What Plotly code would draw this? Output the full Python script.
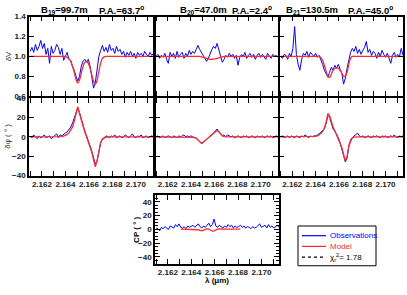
import plotly.graph_objects as go

# ---------------- data ----------------
WL = [2.16100, 2.16115, 2.16130, 2.16145, 2.16160, 2.16175, 2.16190, 2.16205, 2.16220, 2.16235,
      2.16250, 2.16265, 2.16280, 2.16295, 2.16310, 2.16325, 2.16340, 2.16355, 2.16370, 2.16385,
      2.16400, 2.16415, 2.16430, 2.16445, 2.16460, 2.16475, 2.16490, 2.16505, 2.16520, 2.16535,
      2.16550, 2.16565, 2.16580, 2.16595, 2.16610, 2.16625, 2.16640, 2.16655, 2.16670, 2.16685,
      2.16700, 2.16715, 2.16730, 2.16745, 2.16760, 2.16775, 2.16790, 2.16805, 2.16820, 2.16835,
      2.16850, 2.16865, 2.16880, 2.16895, 2.16910, 2.16925, 2.16940, 2.16955, 2.16970, 2.16985,
      2.17000, 2.17015, 2.17030, 2.17045, 2.17060, 2.17075, 2.17090, 2.17105, 2.17120, 2.17135,
      2.17150]

V1_OBS = [1.05, 1.09, 1.04, 1.12, 1.06, 1.10, 1.16, 1.08, 1.13, 1.02,
          1.08, 0.93, 1.10, 1.03, 1.06, 1.12, 1.09, 1.02, 1.08, 0.96,
          1.00, 1.04, 0.97, 0.96, 0.90, 0.86, 0.80, 0.75, 0.80, 0.90,
          0.95, 0.97, 0.94, 0.97, 0.90, 0.78, 0.68, 0.74, 0.88, 1.00,
          1.06, 1.11, 1.05, 1.09, 1.04, 1.12, 1.06, 1.08, 1.03, 1.10,
          1.05, 1.07, 1.02, 1.05, 0.99, 1.04, 1.01, 1.05, 1.00, 1.03,
          0.98, 1.04, 1.01, 1.03, 1.00, 1.05, 1.02, 1.00, 1.04, 1.01,
          1.03]
V1_MOD = [1.0, 1.0, 1.0, 1.0, 1.0, 1.0, 1.0, 1.0, 1.0, 1.0,
          1.0, 1.0, 1.0, 1.0, 1.0, 1.0, 1.0, 1.0, 1.0, 1.0,
          1.0, 0.99, 0.975, 0.95, 0.90, 0.84, 0.77, 0.73, 0.76, 0.83,
          0.90, 0.94, 0.95, 0.93, 0.88, 0.81, 0.75, 0.72, 0.76, 0.85,
          0.93, 0.98, 0.995, 1.0, 1.0, 1.0, 1.0, 1.0, 1.0, 1.0,
          1.0, 1.0, 1.0, 1.0, 1.0, 1.0, 1.0, 1.0, 1.0, 1.0,
          1.0, 1.0, 1.0, 1.0, 1.0, 1.0, 1.0, 1.0, 1.0, 1.0,
          1.0]

V2_OBS = [1.00, 1.02, 0.98, 1.01, 0.99, 1.03, 0.97, 0.93, 1.04, 1.00,
          1.03, 0.98, 1.05, 0.99, 1.02, 1.04, 0.98, 1.03, 1.00, 1.06,
          1.02, 1.05, 1.03, 1.08, 1.11, 1.07, 1.04, 1.00, 0.97, 0.95,
          0.98, 1.03, 1.07, 1.10, 1.08, 1.13, 1.06, 1.00, 0.94, 0.97,
          1.01, 0.99, 1.03, 1.00, 1.02, 0.98, 1.01, 0.91, 0.99, 1.02,
          1.00, 1.04, 0.98, 1.01, 1.03, 0.99, 1.02, 0.97, 1.01, 1.03,
          0.99, 1.02, 1.00, 0.97, 1.03, 1.01, 0.98, 1.02, 1.00, 1.01,
          0.99]
V2_MOD = [1.0, 1.0, 1.0, 1.0, 1.0, 1.0, 1.0, 1.0, 1.0, 1.0,
          1.0, 1.0, 1.0, 1.0, 1.0, 1.0, 1.0, 1.0, 1.0, 1.0,
          1.0, 1.0, 1.0, 1.0, 1.0, 1.0, 0.995, 0.99, 0.985, 0.98,
          0.975, 0.97, 0.97, 0.975, 0.975, 0.98, 0.985, 0.99, 0.995, 1.0,
          1.0, 1.0, 1.0, 1.0, 1.0, 1.0, 1.0, 1.0, 1.0, 1.0,
          1.0, 1.0, 1.0, 1.0, 1.0, 1.0, 1.0, 1.0, 1.0, 1.0,
          1.0, 1.0, 1.0, 1.0, 1.0, 1.0, 1.0, 1.0, 1.0, 1.0,
          1.0]

V3_OBS = [1.00, 0.98, 1.02, 1.01, 0.97, 1.03, 1.00, 1.08, 1.30, 1.02,
          0.92, 0.86, 0.97, 1.03, 1.01, 1.05, 0.99, 1.04, 1.02, 1.00,
          1.03, 0.99, 1.01, 0.97, 0.92, 0.86, 0.82, 0.79, 0.84, 0.89,
          0.86, 0.91, 0.88, 0.92, 0.87, 0.83, 0.72, 0.78, 0.88, 0.98,
          1.04, 1.08, 1.05, 1.10, 1.03, 1.07, 1.02, 1.06, 1.09, 1.15,
          1.04, 1.07, 1.01, 1.05, 1.03, 0.98, 1.04, 1.00, 1.06, 1.02,
          0.99, 1.03, 0.97, 0.93, 1.01, 1.04, 0.99, 1.02, 1.00, 1.08,
          1.01]
V3_MOD = [1.0, 1.0, 1.0, 1.0, 1.0, 1.0, 1.0, 1.0, 1.0, 1.0,
          1.0, 1.0, 1.0, 1.0, 1.0, 1.0, 1.0, 1.0, 1.0, 1.0,
          1.0, 1.0, 1.0, 0.99, 0.96, 0.91, 0.85, 0.80, 0.79, 0.82,
          0.86, 0.88, 0.885, 0.88, 0.86, 0.83, 0.80, 0.80, 0.84, 0.92,
          0.98, 1.0, 1.0, 1.0, 1.0, 1.0, 1.0, 1.0, 1.0, 1.0,
          1.0, 1.0, 1.0, 1.0, 1.0, 1.0, 1.0, 1.0, 1.0, 1.0,
          1.0, 1.0, 1.0, 1.0, 1.0, 1.0, 1.0, 1.0, 1.0, 1.0,
          1.0]

P1_OBS = [1, -1, 2, 0, -2, 1, -1, 0, 2, -1,
          0, 1, -2, 0, 1, 3, -1, 2, 1, 3,
          4, 5, 7, 10, 14, 19, 26, 30, 25, 18,
          12, 6, 1, -4, -9, -15, -22, -28, -25, -15,
          -6, -2, -1, 1, 0, -1, 1, 0, 2, -1,
          0, 1, -1, 0, 2, 0, -1, 1, 3, 0,
          -1, 1, 0, 2, -1, 0, 1, -1, 0, 1,
          0]
P1_MOD = [0, 0, 0, 0, 0, 0, 0, 0, 0, 0,
          0, 0, 0, 0, 0, 0, 0, 0, 0.3, 0.8,
          1.5, 2.5, 4, 6.5, 10, 16, 25, 31, 24, 17,
          11, 5, 0, -5, -10, -16, -24, -31, -24, -13,
          -6, -2.5, -1, -0.4, 0, 0, 0, 0, 0, 0,
          0, 0, 0, 0, 0, 0, 0, 0, 0, 0,
          0, 0, 0, 0, 0, 0, 0, 0, 0, 0,
          0]

P2_OBS = [0, 1, -1, 0, 1, -1, 0, 1, 0, -1,
          1, 0, -1, 1, 0, 1, 2, 0, 1, 0,
          1, 0, -1, -1, -3, -5, -7, -6, -4, -2,
          -1, 1, 2, 4, 6, 8, 5, 3, 1, 2,
          0, 2, 1, 0, 1, -1, 0, 1, 0, -1,
          1, 0, 1, -1, 0, 1, 0, -1, 1, 0,
          0, 1, -1, 0, 1, 0, 1, -1, 0, 1,
          0]
P2_MOD = [0, 0, 0, 0, 0, 0, 0, 0, 0, 0,
          0, 0, 0, 0, 0, 0, 0, 0, 0, 0,
          0, 0, -0.5, -1.5, -3, -5, -6.5, -5.5, -4, -2.5,
          -1, 0.5, 2, 3.5, 5, 6.5, 5.5, 3, 1, 0.3,
          0, 0, 0, 0, 0, 0, 0, 0, 0, 0,
          0, 0, 0, 0, 0, 0, 0, 0, 0, 0,
          0, 0, 0, 0, 0, 0, 0, 0, 0, 0,
          0]

P3_OBS = [0, 1, -1, 0, 1, -1, 1, 0, -1, 1,
          0, -1, 1, 0, 2, 0, -1, 1, 0, 1,
          1, 2, 3, 5, 7, 8, 14, 22, 20, 13,
          8, 6, 3, -1, -6, -12, -20, -26, -22, -10,
          -5, -1, 1, 2, 4, 1, 0, 1, -1, 0,
          1, 0, -1, 1, 0, 1, 0, -1, 1, 0,
          1, -1, 0, 1, 0, 2, 0, -1, 1, 0,
          1]
P3_MOD = [0, 0, 0, 0, 0, 0, 0, 0, 0, 0,
          0, 0, 0, 0, 0, 0, 0, 0, 0, 0,
          0.5, 1, 2, 3.5, 5.5, 9, 15, 24, 22, 15,
          10, 6, 2, -2, -6, -11, -18, -25, -20, -9,
          -3, -1, -0.3, 0, 0, 0, 0, 0, 0, 0,
          0, 0, 0, 0, 0, 0, 0, 0, 0, 0,
          0, 0, 0, 0, 0, 0, 0, 0, 0, 0,
          0]

CP_OBS = [2, 1, -2, 3, 1, 4, 2, 0, 5, 3,
          2, 7, 4, 8, 3, 2, 4, 1, 5, 3,
          4, 6, 3, 5, 8, 4, 2, 5, 3, 6,
          9, 4, 7, 15, 5, 3, 6, 4, 2, 5,
          3, 7, 4, 6, 2, 5, 3, 4, 6, 3,
          5, 2, 4, 3, 1, 4, 2, 3, 5, 8,
          3, 4, 6, 2, 7, 3, 5, 2, 4, 6,
          3]
CP_MOD_START = 14
CP_MOD = [0.5, 0.5, 0.5, 0.5, 0.5, 0.5, 0.5, 0.5, 0.5, 0.3,
          -0.5, -1.5, -2, -1, 0, 1, 0.5, -1, -2.5, -2,
          -0.5, 0.5, 0.8, 0.5, 0.5, 0.5, 0.5, 0.5, 0.5, 0.5,
          0.5, 0.5, 0.5, 0.5, 0.5]

BASELINES = ["B<sub>19</sub>=99.7m", "B<sub>20</sub>=47.0m", "B<sub>21</sub>=130.5m"]
POS_ANGLES = ["P.A.=63.7<sup>o</sup>", "P.A.=2.4<sup>o</sup>", "P.A.=45.0<sup>o</sup>"]
CHI2 = "1.78"

# ---------------- style ----------------
W, H = 407, 295
BLUE = "#0000ff"
RED = "#ff2a2a"
FONT = "Liberation Sans, Arial, sans-serif"
TICKFONT = dict(family=FONT, size=8, color="#222222", weight="bold")
XR = [2.1609, 2.1715]


def px(x):
    return x / W


def py(y):
    return 1 - y / H


COLS = [(29, 153.5), (155, 278), (279.5, 403)]
V_ROW = (13, 95)
P_ROW = (97, 177)
CP_BOX = ((155, 279), (197, 268))
TITLE_B_X = [64, 203, 312]
TITLE_PA_X = [121, 252, 370]

fig = go.Figure()
layout = dict(width=W, height=H, margin=dict(l=0, r=0, t=0, b=0),
              paper_bgcolor="white", plot_bgcolor="white", showlegend=False)


def xaxis(dom, anchor, labels):
    return dict(domain=[px(dom[0]), px(dom[1])], anchor=anchor, range=XR,
                showline=True, linecolor="black", linewidth=1.5, mirror="ticks",
                ticks="inside", ticklen=5, tickcolor="black", tickwidth=1,
                tick0=2.162, dtick=0.002, tickformat=".3f", tickangle=0,
                minor=dict(dtick=0.001, tick0=2.161, ticks="inside", ticklen=5,
                           tickcolor="black", showgrid=False),
                showticklabels=labels, tickfont=TICKFONT, showgrid=False,
                zeroline=False, fixedrange=True)


def yaxis(dom, anchor, rng, dtick, fmt, labels, minor=None):
    d = dict(domain=[py(dom[1]), py(dom[0])], anchor=anchor, range=rng,
             showline=True, linecolor="black", linewidth=1.5, mirror="ticks",
             ticks="inside", ticklen=5, tickcolor="black", tickwidth=1,
             dtick=dtick, tickformat=fmt, showticklabels=labels,
             tickfont=TICKFONT, showgrid=False, zeroline=False, fixedrange=True)
    if minor:
        d["minor"] = dict(dtick=minor, ticks="inside", ticklen=3,
                          tickcolor="black", showgrid=False)
    return d


V_OBS = [V1_OBS, V2_OBS, V3_OBS]
V_MOD = [V1_MOD, V2_MOD, V3_MOD]
P_OBS = [P1_OBS, P2_OBS, P3_OBS]
P_MOD = [P1_MOD, P2_MOD, P3_MOD]

n = 1
for c in range(3):
    xa, ya = f"x{n}", f"y{n}"
    layout[f"xaxis{n}"] = xaxis(COLS[c], ya, False)
    layout[f"yaxis{n}"] = yaxis(V_ROW, xa, [0.6, 1.4], 0.2, ".1f", c == 0)
    fig.add_trace(go.Scatter(x=WL, y=V_OBS[c], xaxis=xa, yaxis=ya, mode="lines",
                             line=dict(color=BLUE, width=1)))
    fig.add_trace(go.Scatter(x=WL, y=V_MOD[c], xaxis=xa, yaxis=ya, mode="lines",
                             line=dict(color=RED, width=1.3, shape="spline")))
    n += 1
    xa, ya = f"x{n}", f"y{n}"
    layout[f"xaxis{n}"] = xaxis(COLS[c], ya, True)
    layout[f"yaxis{n}"] = yaxis(P_ROW, xa, [-40, 40], 20, "d", c == 0)
    fig.add_trace(go.Scatter(x=WL, y=P_OBS[c], xaxis=xa, yaxis=ya, mode="lines",
                             line=dict(color=BLUE, width=1)))
    fig.add_trace(go.Scatter(x=WL, y=P_MOD[c], xaxis=xa, yaxis=ya, mode="lines",
                             line=dict(color=RED, width=1.3)))
    n += 1

# CP panel
xa, ya = f"x{n}", f"y{n}"
layout[f"xaxis{n}"] = xaxis(CP_BOX[0], ya, True)
layout[f"yaxis{n}"] = yaxis(CP_BOX[1], xa, [-50, 50], 20, "d", True, minor=5)
fig.add_trace(go.Scatter(x=WL, y=CP_OBS, xaxis=xa, yaxis=ya, mode="lines",
                         line=dict(color=BLUE, width=1), name="Observations"))
fig.add_trace(go.Scatter(x=WL[CP_MOD_START:CP_MOD_START + len(CP_MOD)], y=CP_MOD,
                         xaxis=xa, yaxis=ya, mode="lines",
                         line=dict(color=RED, width=1.3), name="Model"))

# ---------------- legend (drawn box) ----------------
LEG = (298, 376, 229, 270)
shapes = [dict(type="rect", xref="paper", yref="paper",
               x0=px(LEG[0]), x1=px(LEG[1]), y0=py(LEG[3]), y1=py(LEG[2]),
               line=dict(color="black", width=1), fillcolor="white", layer="above")]
leg_rows = [("Observations", BLUE, "solid", 239),
            ("Model", RED, "solid", 250),
            ("χ<sub>r</sub><sup>2</sup>= " + CHI2, "black", "dot", 261)]
ann = []
for label, col, dash, yy in leg_rows:
    shapes.append(dict(type="line", xref="paper", yref="paper",
                       x0=px(302), x1=px(326), y0=py(yy), y1=py(yy),
                       line=dict(color=col, width=1.2, dash=dash), layer="above"))
    ann.append(dict(x=px(328), y=py(yy), xref="paper", yref="paper", text=label,
                    xanchor="left", yanchor="middle", showarrow=False,
                    font=dict(family=FONT, size=8, color=col)))
layout["shapes"] = shapes

# ---------------- titles / labels ----------------
TITLE_FONT = dict(family=FONT, size=9.5, color="black", weight="bold")
for c in range(3):
    ann.append(dict(x=px(TITLE_B_X[c]), y=py(6), xref="paper", yref="paper",
                    xanchor="center", yanchor="middle",
                    text=BASELINES[c], showarrow=False, font=TITLE_FONT))
    ann.append(dict(x=px(TITLE_PA_X[c]), y=py(6), xref="paper", yref="paper",
                    xanchor="center", yanchor="middle",
                    text=POS_ANGLES[c], showarrow=False, font=TITLE_FONT))


def side_label(x, y, text, size, color, bold=False, angle=-90):
    f = dict(family=FONT, size=size, color=color)
    if bold:
        f["weight"] = "bold"
    return dict(x=px(x), y=py(y), xref="paper", yref="paper", text=text,
                textangle=angle, xanchor="center", yanchor="middle",
                showarrow=False, font=f)


ann.append(side_label(8, 54, "δV", 8, "#333"))
ann.append(side_label(8, 137, "δφ ( ° )", 8, "#333"))
ann.append(side_label(137, 233, "CP ( ° )", 8, "black", bold=True))
ann.append(side_label(217, 285, "λ (μm)", 8, "black", bold=True, angle=0))
layout["annotations"] = ann

fig.update_layout(**layout)
fig.write_html("out.html", config={"displayModeBar": False},
               post_script="document.body.style.margin='0px';document.body.style.padding='0px';")
